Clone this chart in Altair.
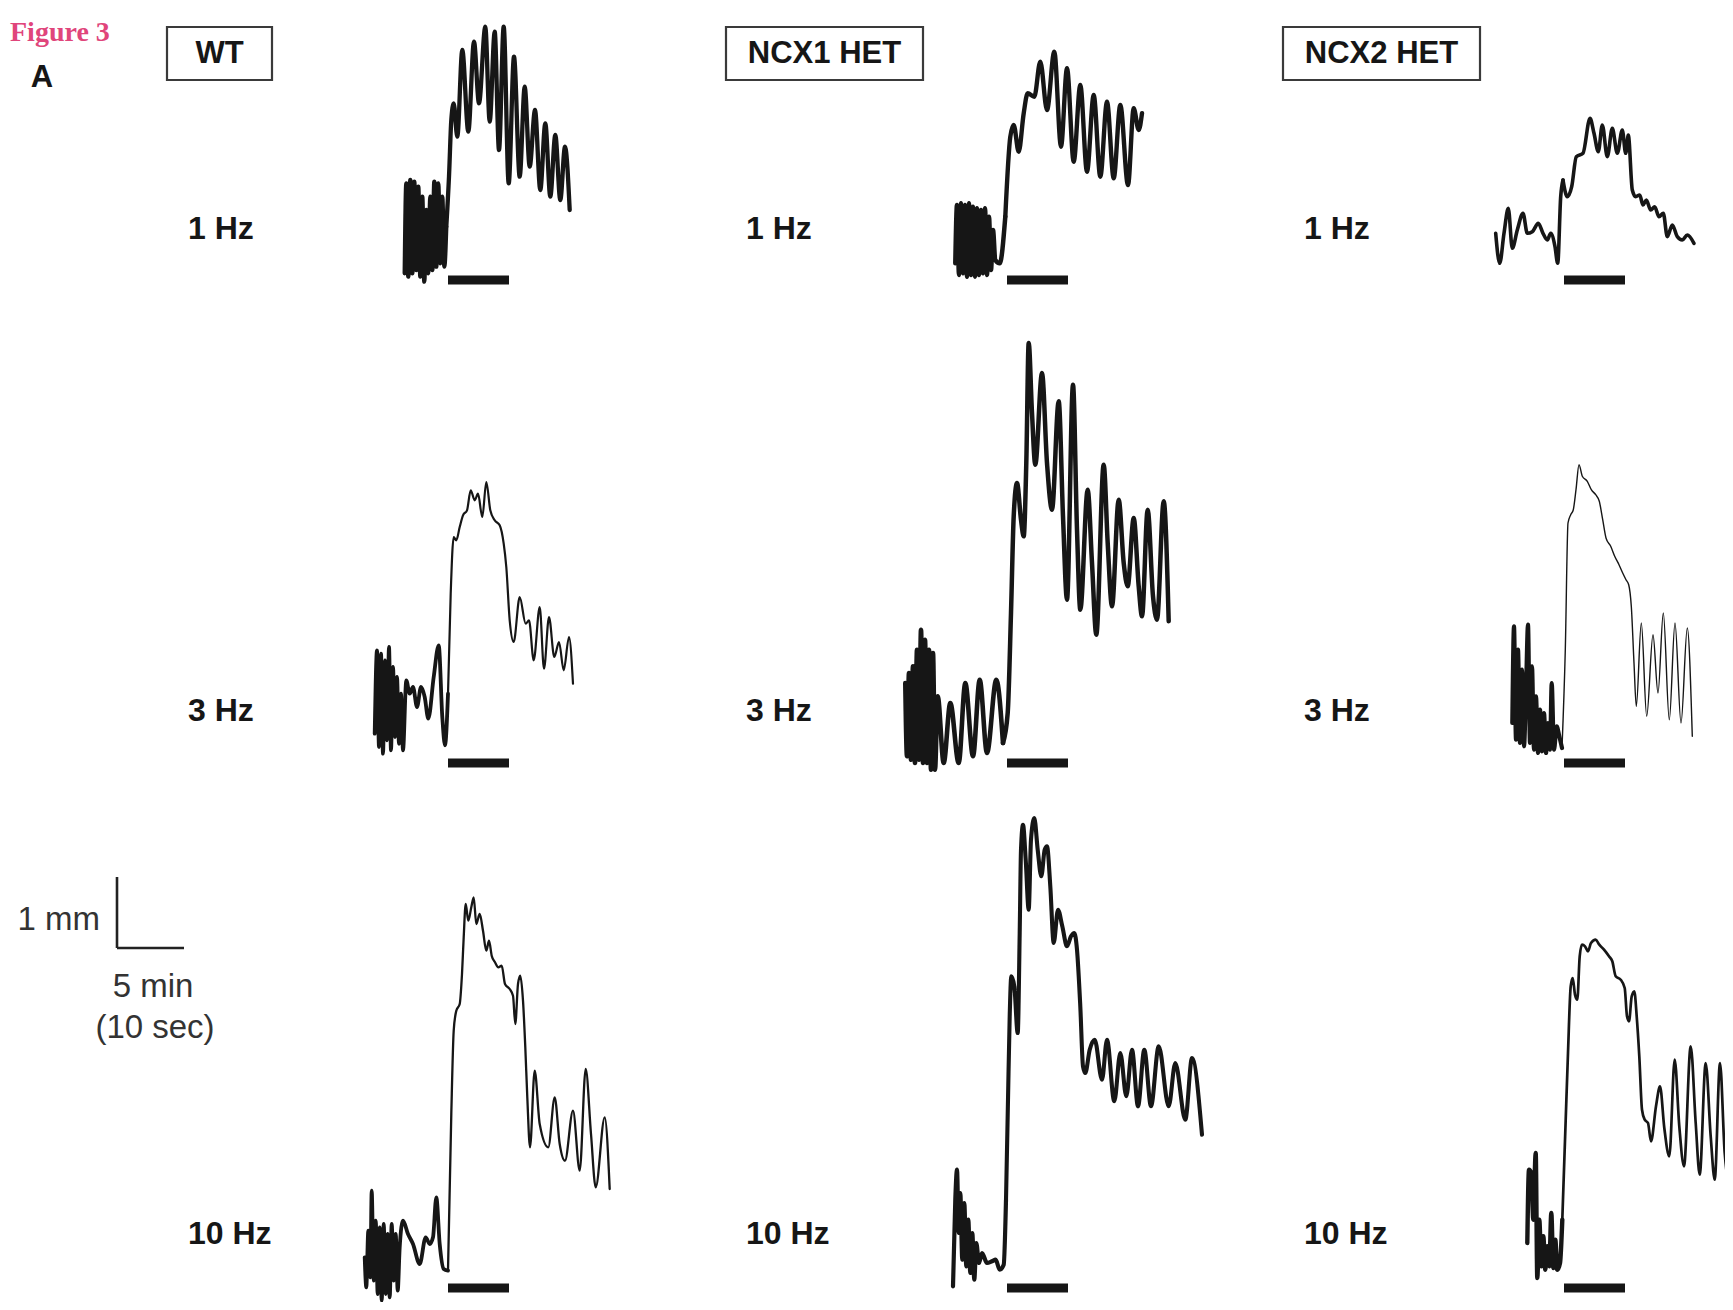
import altair as alt
import pandas as pd

# ---------------------------------------------------------------- canvas
W, H = 1717, 1294          # chart size (page 1733x1310 minus the 8px margin)
M = 8                      # scales below are expressed in page pixels

# ---------------------------------------------------------------- categories
genotypes = ["WT", "NCX1 HET", "NCX2 HET"]
frequencies = ["1 Hz", "3 Hz", "10 Hz"]

# ---------------------------------------------------------------- traces
# t: time relative to stimulus onset, v: tension relative to stimulus-bar level
# (units of the scale bar: 1 mm = 71 units, 5 min = 67 units)
wt_1hz_t = [-43.3, -41.7, -39.7, -37.7, -35.7, -33.7, -31.7, -29.7, -27.7, -25.7,
            -23.7, -21.7, -19.7, -17.7, -15.7, -13.7, -11.7, -9.7, -7.7, -5.7,
            -3.7, -1.7, 1, 3.3, 5.7, 9.3, 14.3, 20.3, 26, 31,
            37.3, 41.7, 46.7, 51, 55.7, 60.7, 66, 71.7, 76.7, 81.7,
            87, 92.3, 97.3, 102.3, 107.3, 112.3, 117, 121.7]
wt_1hz_v = [6.7, 96.7, 3.3, 100, 6.7, 98.3, 10, 93.3, 3.3, 83.3,
            -1.7, 70, 6.7, 83.3, 10, 98.3, 13.3, 96.7, 16.7, 83.3,
            13.3, 53.3, 103.3, 160, 176.7, 143.3, 230, 148.3, 238.3, 176.7,
            253.3, 158.3, 248.3, 130, 253.3, 96.7, 223.3, 103.3, 193.3, 113.3,
            170, 90, 156.7, 83.3, 145, 80, 133.3, 70]

ncx1_1hz_t = [-51.7, -50, -48, -46, -44, -42, -40, -38, -36, -34,
              -32, -30, -28, -26, -24, -22, -20, -18, -16, -14,
              -11.7, -7.3, -1.7, 3.3, 6.7, 11.7, 16.7, 20.7, 27.3, 33.3,
              40, 47.3, 54, 60, 66.7, 73.3, 80, 86.7, 93.3, 100,
              106.7, 113.3, 121, 126.7, 131.7, 135]
ncx1_1hz_v = [16.7, 75, 5, 76.7, 6.7, 75, 3.3, 76.7, 5, 73.3,
              3.3, 71.7, 5, 70, 6.7, 71.7, 5, 63.3, 10, 50,
              20, 16.7, 63.3, 143.3, 155, 128.3, 166.7, 186.7, 183.3, 218.3,
              170, 228.3, 133.3, 211.7, 118.3, 195, 108.3, 185, 103.3, 178.3,
              101.7, 175, 95, 171.7, 150, 166.7]

ncx2_1hz_t = [-68.3, -64.3, -60, -55.7, -51.7, -46.7, -41, -36.7, -31.7, -25.7,
              -21, -16.7, -13.3, -9, -6.3, -3.3, -1, 3.3, 7.7, 12.3,
              19, 26, 30, 34.3, 38.3, 43.3, 48.3, 53.3, 58.3, 61.7,
              64.3, 68.3, 71.7, 75.7, 79, 82.3, 86.7, 90.7, 95, 99.3,
              103.3, 108.3, 113.3, 118.3, 123.3, 130]
ncx2_1hz_v = [46.7, 16.7, 46.7, 71.7, 31.7, 50, 66.7, 46.7, 48.3, 56.7,
              46.7, 40, 46.7, 33.3, 16.7, 83.3, 100, 83.3, 93.3, 123.3,
              126.7, 161.7, 146.7, 128.3, 155, 123.3, 151.7, 126.7, 150, 126.7,
              145, 90, 83.3, 85, 75, 80, 70, 73.3, 63.3, 66.7,
              43.3, 55, 43.3, 40, 45, 36.7]

wt_3hz_t = [-73.3, -71, -69, -67, -65, -63, -61, -59, -57, -55,
            -53, -51, -49, -47, -45, -41.7, -38.3, -35, -31, -27,
            -23.3, -19.7, -14.3, -9.3, -5.7, -3, 0, 2.7, 5.7, 8.3,
            11.7, 15, 19, 22.7, 26.7, 30, 34.3, 38.3, 42.3, 46.7,
            51.7, 55.7, 58.3, 61.7, 65.7, 71.7, 77.7, 81, 85.7, 91.7,
            96, 101, 106.3, 111, 115.7, 121, 125]
wt_3hz_v = [29.3, 112.7, 16, 109.3, 9.3, 102.7, 22.7, 116, 12.7, 96,
            26, 86, 19.3, 69.3, 12.7, 82.7, 69.3, 76, 56, 76,
            66, 44.3, 86, 117.7, 46, 17.7, 69.3, 169.3, 226, 222.7,
            236, 247.7, 252.7, 272.7, 262.7, 269.3, 246, 281, 252.7, 242.7,
            237.7, 219.3, 196, 142.7, 121, 166, 139.3, 142.7, 102.7, 156,
            94.3, 146, 106, 121, 92.7, 126, 79.3]

ncx1_3hz_t = [-101.7, -100, -98, -96, -94, -92, -90, -88, -86, -84,
              -82, -80, -78, -76, -74, -72, -69.3, -63.3, -56.7, -48.3,
              -41.7, -34, -27.3, -20, -10.7, -4, 0.7, 4, 6.7, 10,
              14, 16.7, 19.3, 21.7, 25, 28.3, 35, 40, 45, 51.7,
              56, 60, 66, 70, 73.3, 80.7, 85, 89.3, 96.7, 100.7,
              105, 111.7, 116.7, 120.7, 126.7, 131.7, 135, 140.7, 146, 150,
              156.7, 161.7]
ncx1_3hz_v = [80, 6.7, 90, 3.3, 96.7, 0, 113.3, 3.3, 133.3, 0,
              123.3, 0, 113.3, -6.7, 110, -6.7, 66.7, 0, 60, 0,
              80, 6.7, 83.3, 10, 83.3, 20, 50, 150, 246.7, 280,
              243.3, 226.7, 300, 420, 350, 298.3, 390, 300, 253.3, 361.7,
              246.7, 163.3, 378.3, 233.3, 153.3, 273.3, 200, 128.3, 298.3, 220,
              156.7, 263.3, 200, 176.7, 245, 176.7, 146.7, 253.3, 166.7, 143.3,
              261.7, 141.7]

ncx2_3hz_t = [-51.7, -50, -48, -46, -44, -42, -40, -38, -36, -34,
              -32, -30, -28, -26, -24, -22, -20, -18, -16, -14,
              -12.3, -10, -7.3, -4.7, -2, 1.3, 4, 6.7, 9.3, 12,
              15, 18.3, 23.3, 27.3, 31.7, 35.3, 38.7, 42, 46.7, 50.7,
              55, 58.7, 62, 64.7, 67.3, 70, 72.3, 77.3, 82.7, 89,
              94, 99.3, 105.3, 111, 117, 123.3, 128.3]
ncx2_3hz_v = [40, 136.7, 23.3, 113.3, 20, 93.3, 16.7, 73.3, 138.3, 20,
              96.7, 13.3, 66.7, 10, 53.3, 11.7, 50, 10, 40, 13.3,
              80, 13.3, 36.7, 26.7, 15, 113.3, 240, 248.3, 253.3, 273.3,
              298.3, 286.7, 281.7, 273.3, 268.3, 261.7, 243.3, 225, 216.7, 206.7,
              198.3, 190, 183.3, 178.3, 156.7, 100, 56.7, 140, 46.7, 128.3,
              70, 150, 43.3, 140, 40, 135, 26.7]

wt_10hz_t = [-83.3, -81.7, -79.7, -77.7, -76.3, -74.3, -72.3, -70.3, -68.3, -66.3,
             -64.3, -62.3, -60.3, -58.3, -56.3, -54.3, -52.3, -50.3, -48.3, -45,
             -40, -35, -28.3, -22.3, -18.3, -15, -11.7, -8.3, -4.3, 0,
             3.3, 5.7, 8.3, 11.7, 14, 15.7, 17.7, 20.3, 23.3, 25.7,
             28.3, 31.7, 35, 38.3, 41, 43.7, 47, 50.3, 53.7, 57,
             61.7, 65, 67.3, 70, 72.3, 75, 77.3, 79.3, 82, 86.7,
             91.7, 100.3, 106.7, 111.7, 117, 125, 131.7, 137.7, 143, 147.7,
             156.7, 161.7]
wt_10hz_v = [30.7, 0.7, 57.3, 10.7, 97.3, 7.3, 67.3, -6, 60.7, -12.7,
             64, -6, 54, -9.3, 64, 7.3, 54, -2.7, 40.7, 67.3,
             54, 44, 24, 50.7, 44, 50.7, 90.7, 44, 19, 17.3,
             174, 257.3, 277.3, 284, 314, 350.7, 384, 367.3, 380.7, 390.7,
             364, 374, 357.3, 337.3, 347.3, 332.3, 325.7, 320.7, 322.3, 304,
             299, 292.3, 264, 304, 312.3, 287.3, 240.7, 190.7, 140.7, 217.3,
             164, 140.7, 190.7, 144, 127.3, 177.3, 117.3, 219, 154, 100.7,
             170.7, 99]

ncx1_10hz_t = [-54, -51.7, -50, -48.3, -46.7, -44.7, -42.7, -40.7, -38.7, -36.7,
               -34.7, -32.7, -30.7, -28, -25, -20, -15, -11.3, -7.3, -3.3,
               -1, 1, 2.7, 4.3, 7.3, 10.7, 12.7, 14, 16, 18.7,
               21.7, 24, 27.3, 30.7, 34.3, 37.7, 40, 43.3, 46.7, 51,
               55.3, 60, 64, 67.3, 70, 73.3, 76, 78.3, 82.7, 87.7,
               95, 100, 107.3, 113.3, 119.3, 125, 131, 137.3, 144, 151.7,
               161.7, 168.3, 178.3, 185, 195]
ncx1_10hz_v = [1.7, 88.3, 118.3, 55, 95, 28.3, 85, 21.7, 68.3, 15,
               55, 8.3, 45, 25, 35, 25, 26.7, 28.3, 18.3, 23.3,
               88.3, 188.3, 271.7, 311.7, 301.7, 255, 355, 438.3, 463.3, 428.3,
               378.3, 448.3, 470, 438.3, 411.7, 438.3, 441.7, 401.7, 345, 378.3,
               361.7, 341.7, 351.7, 355, 338.3, 281.7, 221.7, 215, 238.3, 248.3,
               208.3, 248.3, 186.7, 235, 191.7, 238.3, 181.7, 238.3, 181.7, 241.7,
               181.7, 225, 168.3, 230, 153.3]

ncx2_10hz_t = [-36.7, -35, -32.7, -30.7, -28.3, -26.7, -24.7, -22.7, -20.7, -18.7,
               -16.7, -14.7, -12.7, -10.7, -8.7, -6.7, -4, -1.7, 1.7, 4,
               6.7, 8.7, 11, 13.3, 15.7, 18, 21, 24, 27, 31.7,
               35.3, 40, 45, 48.3, 51.7, 56.7, 60.7, 63, 65, 67.7,
               70.3, 72.7, 75.3, 78, 80.7, 84, 87, 92, 96, 100.3,
               105.3, 110.7, 115.3, 120, 126.7, 131.7, 135.7, 141.7, 146.7, 150.7,
               156, 160.7, 165, 169.7]
ncx2_10hz_v = [45, 118.3, 115, 68.3, 135, 10, 68.3, 21.7, 51.7, 18.3,
               41.7, 21.7, 75, 20, 48.3, 18.3, 25, 68.3, 168.3, 235,
               301.7, 310, 293.3, 288.3, 331.7, 343.3, 341.7, 336.7, 345, 348.3,
               343.3, 338.3, 331.7, 326.7, 311.7, 308.3, 300, 271.7, 266.7, 291.7,
               296.7, 271.7, 231.7, 178.3, 168.3, 165, 146.7, 181.7, 201.7, 160,
               131.7, 228.3, 161.7, 121.7, 241.7, 165, 113.3, 225, 151.7, 108.3,
               225, 135, 105, 211.7]

traces = {
    ("WT", "1 Hz"): (wt_1hz_t, wt_1hz_v),
    ("NCX1 HET", "1 Hz"): (ncx1_1hz_t, ncx1_1hz_v),
    ("NCX2 HET", "1 Hz"): (ncx2_1hz_t, ncx2_1hz_v),
    ("WT", "3 Hz"): (wt_3hz_t, wt_3hz_v),
    ("NCX1 HET", "3 Hz"): (ncx1_3hz_t, ncx1_3hz_v),
    ("NCX2 HET", "3 Hz"): (ncx2_3hz_t, ncx2_3hz_v),
    ("WT", "10 Hz"): (wt_10hz_t, wt_10hz_v),
    ("NCX1 HET", "10 Hz"): (ncx1_10hz_t, ncx1_10hz_v),
    ("NCX2 HET", "10 Hz"): (ncx2_10hz_t, ncx2_10hz_v),
}

stim_duration = 61          # stimulus bar length (time units)
scale_mm, scale_min = 1, 5  # scale bar values
units_per_mm, units_per_min = 71, 13.4

# ---------------------------------------------------------------- styles / layout
# (before stimulus, after stimulus) line widths
line_width = {
    ("WT", "1 Hz"): (4.3, 4.3), ("NCX1 HET", "1 Hz"): (4.5, 4.4), ("NCX2 HET", "1 Hz"): (3.6, 3.6),
    ("WT", "3 Hz"): (3.8, 2.2), ("NCX1 HET", "3 Hz"): (4.6, 4.5), ("NCX2 HET", "3 Hz"): (4.2, 1.4),
    ("WT", "10 Hz"): (3.8, 2.3), ("NCX1 HET", "10 Hz"): (4.2, 4.1), ("NCX2 HET", "10 Hz"): (4.4, 2.7),
}
col_x = {"WT": 448, "NCX1 HET": 1007, "NCX2 HET": 1564}
row_y = {"1 Hz": 280, "3 Hz": 763, "10 Hz": 1288}
label_x = {"WT": 188, "NCX1 HET": 746, "NCX2 HET": 1304}
label_y = {"1 Hz": 229, "3 Hz": 711, "10 Hz": 1234}
box_x = {"WT": (167, 272), "NCX1 HET": (726, 923), "NCX2 HET": (1283, 1480)}
box_y = (27, 80)
INK = "#161616"
FONT = "Liberation Sans"

# ---------------------------------------------------------------- tables
rows = []
for (g, f), (ts, vs) in traces.items():
    pts = list(zip(ts, vs))
    pre_w, post_w = line_width[(g, f)]
    k = next(i for i, (t, _) in enumerate(pts) if t > 0)
    # the two segments share the last pre-stimulus point
    for name, seg, w in (("pre", pts[:k], pre_w), ("post", pts[k - 1:], post_w)):
        for i, (t, v) in enumerate(seg):
            rows.append({"trace": f"{g}|{f}|{name}", "i": i,
                         "X": col_x[g] + t, "Y": row_y[f] - v, "w": w})
lines_df = pd.DataFrame(rows)

bars_df = pd.DataFrame([
    {"x": col_x[g], "x2": col_x[g] + stim_duration, "y": row_y[f] - 4.5, "y2": row_y[f] + 4.5}
    for g in genotypes for f in frequencies
])

labels_df = pd.DataFrame([
    {"x": label_x[g], "y": label_y[f], "text": f} for g in genotypes for f in frequencies
])

boxes_df = pd.DataFrame([
    {"x": box_x[g][0], "x2": box_x[g][1], "y": box_y[0], "y2": box_y[1],
     "cx": (box_x[g][0] + box_x[g][1]) / 2, "cy": (box_y[0] + box_y[1]) / 2 + 0.5, "text": g}
    for g in genotypes
])

sb_x0, sb_y0 = 117, 948
scale_df = pd.DataFrame([
    {"x": sb_x0, "x2": sb_x0, "y": sb_y0 - scale_mm * units_per_mm, "y2": sb_y0},
    {"x": sb_x0, "x2": sb_x0 + scale_min * units_per_min, "y": sb_y0, "y2": sb_y0},
])
scale_text_df = pd.DataFrame([
    {"x": 100, "y": 920, "text": f"{scale_mm} mm", "anchor": "right"},
    {"x": 153, "y": 987, "text": f"{scale_min} min", "anchor": "center"},
    {"x": 155, "y": 1028, "text": "(10 sec)", "anchor": "center"},
])

# ---------------------------------------------------------------- encodings
xs = alt.Scale(domain=[M, M + W], nice=False, zero=False)
ys = alt.Scale(domain=[M, M + H], nice=False, zero=False, reverse=True)


def X(field):
    return alt.X(field, type="quantitative", scale=xs, axis=None)


def Y(field):
    return alt.Y(field, type="quantitative", scale=ys, axis=None)


lines = alt.Chart(lines_df).mark_line(
    interpolate="monotone", color=INK, strokeJoin="round", strokeCap="round"
).encode(
    x=X("X"), y=Y("Y"), detail="trace:N", order="i:Q",
    strokeWidth=alt.StrokeWidth("w:Q", scale=None),
)

bars = alt.Chart(bars_df).mark_rect(color=INK).encode(
    x=X("x"), x2="x2", y=Y("y"), y2="y2"
)

boxes = alt.Chart(boxes_df).mark_rect(
    fillOpacity=0, stroke="#3a3a3a", strokeWidth=2.2
).encode(x=X("x"), x2="x2", y=Y("y"), y2="y2")

box_text = alt.Chart(boxes_df).mark_text(
    font=FONT, fontSize=31, fontWeight="bold", color=INK, align="center", baseline="middle"
).encode(x=X("cx"), y=Y("cy"), text="text:N")

freq_text = alt.Chart(labels_df).mark_text(
    font=FONT, fontSize=32, fontWeight="bold", color=INK, align="left", baseline="middle"
).encode(x=X("x"), y=Y("y"), text="text:N")

scale_rules = alt.Chart(scale_df).mark_rule(color="#222222", strokeWidth=2.6).encode(
    x=X("x"), x2="x2", y=Y("y"), y2="y2"
)

scale_right = alt.Chart(scale_text_df[scale_text_df["anchor"] == "right"]).mark_text(
    font=FONT, fontSize=33, color="#333333", align="right", baseline="middle"
).encode(x=X("x"), y=Y("y"), text="text:N")

scale_center = alt.Chart(scale_text_df[scale_text_df["anchor"] == "center"]).mark_text(
    font=FONT, fontSize=33, color="#333333", align="center", baseline="middle"
).encode(x=X("x"), y=Y("y"), text="text:N")

fig_df = pd.DataFrame([{"x": 10, "y": 33, "text": "Figure 3"}])
fig_text = alt.Chart(fig_df).mark_text(
    font="Liberation Serif", fontSize=28, fontWeight="bold", color="#e0457b",
    align="left", baseline="middle"
).encode(x=X("x"), y=Y("y"), text="text:N")

panel_df = pd.DataFrame([{"x": 42, "y": 78, "text": "A"}])
panel_text = alt.Chart(panel_df).mark_text(
    font=FONT, fontSize=31, fontWeight="bold", color=INK, align="center", baseline="middle"
).encode(x=X("x"), y=Y("y"), text="text:N")

chart = alt.layer(
    boxes, box_text, freq_text, bars, lines, scale_rules, scale_right, scale_center,
    fig_text, panel_text
).properties(
    width=W, height=H, padding=0, autosize=alt.AutoSizeParams(type="none"),
    background="white"
).configure_view(stroke=None)

chart.save("out.html", embed_options={"renderer": "svg", "actions": False})
